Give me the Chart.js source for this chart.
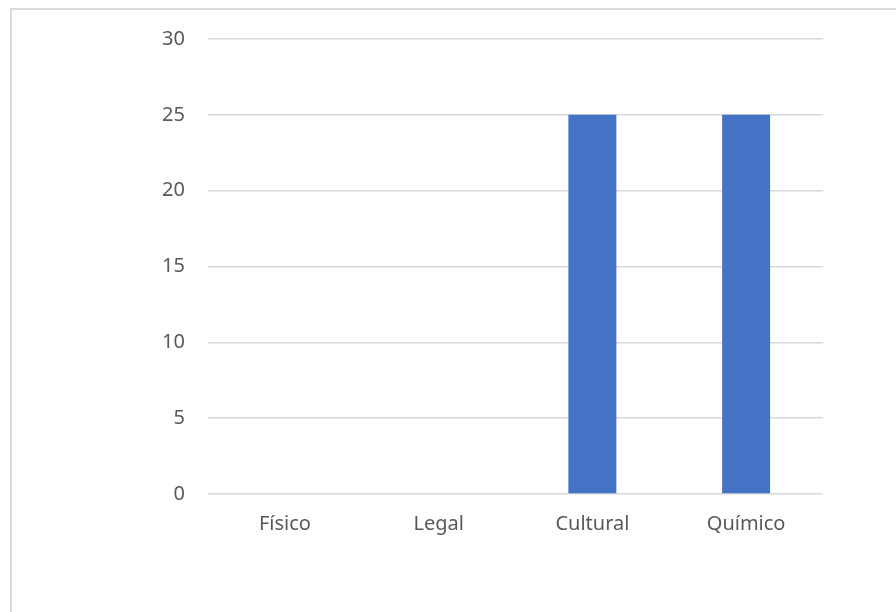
<!DOCTYPE html>
<html>
<head>
<meta charset="utf-8">
<title>Gráfico</title>
<script src="https://cdn.jsdelivr.net/npm/chart.js@4"></script>
<style>
  html, body { margin: 0; padding: 0; background: #fff; overflow: hidden; }
  body { width: 896px; height: 612px; position: relative; }
  /* chart frame: only top and left edges fall inside the window */
  .frame {
    position: absolute; left: 10px; top: 8px;
    width: 1000px; height: 1000px;
    border-top: 2px solid #d9d9d9;
    border-left: 2px solid #d9d9d9;
    box-sizing: border-box;
  }
  #chart { position: absolute; left: 0; top: 0; }
</style>
</head>
<body>
<div class="frame"></div>
<canvas id="chart" width="896" height="612"></canvas>
<script>
'use strict';

// categorias e valores
const categories = ['Físico', 'Legal', 'Cultural', 'Químico'];
const values     = [0, 0, 25, 25];
const yTicks     = [0, 5, 10, 15, 20, 25, 30];

const BAR_COLOR  = '#4472c4';
const GRID_COLOR = '#d9d9d9';
const TEXT_COLOR = '#595959';
const FONT       = { family: "'Noto Sans', 'Open Sans', sans-serif", size: 20 };

const ctx = document.getElementById('chart').getContext('2d');

new Chart(ctx, {
  type: 'bar',
  data: {
    labels: categories,
    datasets: [{
      data: values,
      backgroundColor: BAR_COLOR,
      borderWidth: 0,
      barPercentage: 0.312,
      categoryPercentage: 1.0,
    }],
  },
  options: {
    responsive: false,
    animation: false,
    layout: {
      padding: { top: 39, right: 73, bottom: 0, left: 0 },
    },
    plugins: {
      legend: { display: false },
      tooltip: { enabled: false },
    },
    scales: {
      x: {
        grid: { display: false },
        border: { display: false },
        ticks: { color: TEXT_COLOR, font: FONT, padding: 10 },
        afterFit(scale) { scale.height = 118; },
      },
      y: {
        min: 0,
        max: 30,
        afterBuildTicks(scale) {
          scale.ticks = yTicks.map(v => ({ value: v }));
        },
        grid: { color: GRID_COLOR, lineWidth: 1.5, drawTicks: false },
        border: { display: false },
        ticks: { color: TEXT_COLOR, font: FONT, padding: 23 },
        afterFit(scale) { scale.width = 208; },
      },
    },
  },
});
</script>
</body>
</html>
